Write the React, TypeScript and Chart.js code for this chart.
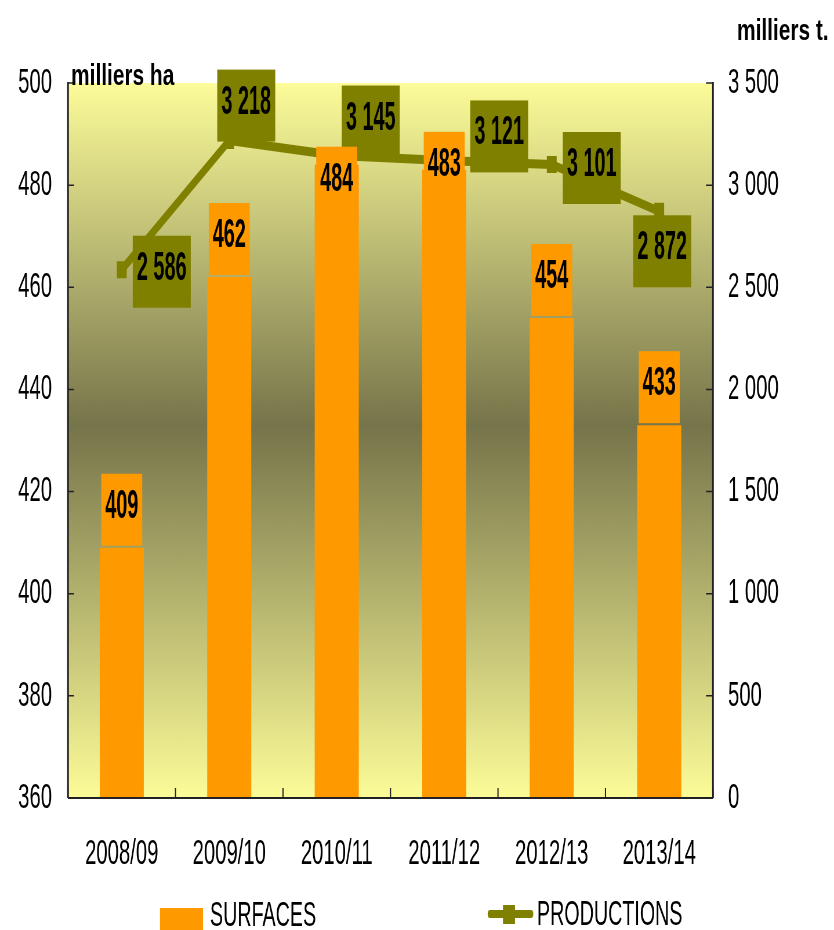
import React, { useEffect, useRef } from 'react';
import { Chart, registerables } from 'chart.js';

Chart.register(...registerables);

// ---- data ----
const categories = ['2008/09', '2009/10', '2010/11', '2011/12', '2012/13', '2013/14'];
const surfaces = [409, 462, 484, 483, 454, 433];
const productions = [2586, 3218, 3145, 3121, 3101, 2872];
const leftAxisTitle = 'milliers ha';
const rightAxisTitle = 'milliers t.';
const legendSurfaces = 'SURFACES';
const legendProductions = 'PRODUCTIONS';
const leftMin = 360;
const leftMax = 500;
const leftStep = 20;
const rightMin = 0;
const rightMax = 3500;
const rightStep = 500;

// ---- layout / style ----
const SX = 0.58; // horizontal squeeze of the whole picture
const W = Math.round(834 / SX);
const H = 930;
const X = (px: number) => px / SX;

const ORANGE = '#ff9900';
const OLIVE = '#808000';
const FONT = "'Liberation Sans', Arial, sans-serif";

// label box offsets in real px (dx, dy) relative to the point
const prodLabelOffsets: [number, number][] = [[40, 2], [17, -35], [34, -34], [55, -24], [40, 3.5], [3, 40]];
// bar label box centre, relative to bar top, real px
const surfLabelDy = [-38, -38, 18, -2, -38, -38];

const fmt = (n: number) => String(n).replace(/\B(?=(\d{3})+(?!\d))/g, ' ');

function drawText(ctx: CanvasRenderingContext2D, text: string, x: number, y: number, font: string, sx: number, align: CanvasTextAlign, baseline: CanvasTextBaseline = 'middle') {
  ctx.save();
  ctx.translate(x, y);
  ctx.scale(sx, 1);
  ctx.font = font;
  ctx.fillStyle = '#000';
  ctx.textAlign = align;
  ctx.textBaseline = baseline;
  ctx.fillText(text, 0, 0);
  ctx.restore();
}

const customPlugin = {
  id: 'customDeco',
  beforeDraw(chart: any) {
    const { ctx, chartArea: a } = chart;
    ctx.save();
    ctx.fillStyle = '#ffffff';
    ctx.fillRect(0, 0, chart.width, chart.height);
    const g = ctx.createLinearGradient(0, a.top, 0, a.bottom);
    g.addColorStop(0, '#fcfc9a');
    g.addColorStop(0.48, '#76744a');
    g.addColorStop(1, '#fcfc98');
    ctx.fillStyle = g;
    ctx.fillRect(a.left, a.top, a.right - a.left, a.bottom - a.top);
    ctx.restore();
  },
  afterDatasetsDraw(chart: any) {
    const { ctx, chartArea: a, scales } = chart;
    const xs = scales.x;
    const ys = scales.y;
    const y2 = scales.y2;
    ctx.save();
    // axes
    ctx.strokeStyle = '#222';
    ctx.lineWidth = X(1.7);
    ctx.beginPath();
    ctx.moveTo(a.left, a.top - 1);
    ctx.lineTo(a.left, a.bottom);
    ctx.moveTo(a.right, a.top - 1);
    ctx.lineTo(a.right, a.bottom);
    ctx.stroke();
    ctx.lineWidth = 2;
    ctx.beginPath();
    ctx.moveTo(a.left, a.bottom);
    ctx.lineTo(a.right, a.bottom);
    ctx.stroke();
    // ticks
    ctx.lineWidth = 1.5;
    ctx.beginPath();
    ys.ticks.forEach((t: any) => {
      const py = ys.getPixelForValue(t.value);
      ctx.moveTo(a.left, py);
      ctx.lineTo(a.left + X(6), py);
    });
    y2.ticks.forEach((t: any) => {
      const py = y2.getPixelForValue(t.value);
      ctx.moveTo(a.right, py);
      ctx.lineTo(a.right - X(7), py);
    });
    ctx.stroke();
    ctx.lineWidth = X(1.2);
    ctx.beginPath();
    for (let i = 0; i <= categories.length; i++) {
      let px: number;
      if (i === 0) px = a.left;
      else if (i === categories.length) px = a.right;
      else px = (xs.getPixelForValue(i - 1) + xs.getPixelForValue(i)) / 2;
      ctx.moveTo(px, a.bottom);
      ctx.lineTo(px, a.bottom - 10);
    }
    ctx.stroke();

    const boxFont = `bold 40px ${FONT}`;
    // olive labels for productions
    const lineMeta = chart.getDatasetMeta(0);
    lineMeta.data.forEach((pt: any, i: number) => {
      const [dx, dy] = prodLabelOffsets[i];
      const cx = pt.x + X(dx);
      const cy = pt.y + dy;
      const bw = X(58);
      const bh = 72;
      ctx.fillStyle = OLIVE;
      ctx.fillRect(cx - bw / 2, cy - bh / 2, bw, bh);
      drawText(ctx, fmt(productions[i]), cx, cy - 3, boxFont, 0.855, 'center');
    });
    // orange labels for surfaces
    const barMeta = chart.getDatasetMeta(1);
    barMeta.data.forEach((bar: any, i: number) => {
      const cx = bar.x;
      const cy = bar.y + surfLabelDy[i];
      const bw = X(41);
      const bh = 72;
      ctx.fillStyle = ORANGE;
      ctx.fillRect(cx - bw / 2, cy - bh / 2, bw, bh);
      drawText(ctx, fmt(surfaces[i]), cx, cy - 3, boxFont, 0.855, 'center');
    });
    ctx.restore();
  },
  afterDraw(chart: any) {
    const { ctx } = chart;
    ctx.save();
    const titleFont = `bold 30px ${FONT}`;
    drawText(ctx, leftAxisTitle, X(71), 85, titleFont, 1.2, 'left', 'alphabetic');
    drawText(ctx, rightAxisTitle, X(737), 40, titleFont, 1.2, 'left', 'alphabetic');
    // legend
    ctx.fillStyle = ORANGE;
    ctx.fillRect(X(160), 908, X(43), 40);
    const legFont = `35px ${FONT}`;
    drawText(ctx, legendSurfaces, X(210), 916, legFont, 0.97, 'left');
    ctx.strokeStyle = OLIVE;
    ctx.lineCap = 'round';
    ctx.lineWidth = 8;
    ctx.beginPath();
    ctx.moveTo(X(490), 914);
    ctx.lineTo(X(531), 914);
    ctx.stroke();
    ctx.fillStyle = OLIVE;
    ctx.fillRect(X(503), 905, X(12), 19);
    drawText(ctx, legendProductions, X(537), 915, legFont, 0.97, 'left');
    ctx.restore();
  },
};

export default function App() {
  const ref = useRef<HTMLCanvasElement>(null);
  useEffect(() => {
    if (!ref.current) return;
    Chart.defaults.font.family = FONT;
    Chart.defaults.color = '#000';
    const chart = new Chart(ref.current, {
      type: 'bar',
      data: {
        labels: categories,
        datasets: [
          {
            type: 'line',
            label: legendProductions,
            data: productions,
            yAxisID: 'y2',
            borderColor: OLIVE,
            backgroundColor: OLIVE,
            borderWidth: 9,
            pointStyle: 'rect',
            pointRadius: 12,
            pointBackgroundColor: OLIVE,
            pointBorderWidth: 0,
            tension: 0,
            order: 1,
          } as any,
          {
            type: 'bar',
            label: legendSurfaces,
            data: surfaces,
            yAxisID: 'y',
            backgroundColor: ORANGE,
            barPercentage: 0.41,
            categoryPercentage: 1,
            order: 2,
          } as any,
        ],
      },
      options: {
        animation: false,
        responsive: false,
        devicePixelRatio: 1,
        events: [],
        layout: { padding: { top: 83, left: 0, right: 0, bottom: 0 } },
        plugins: {
          legend: { display: false },
          tooltip: { enabled: false },
        },
        scales: {
          x: {
            grid: { display: false, drawTicks: false },
            border: { display: false },
            ticks: { color: '#000', font: { size: 35 }, padding: 35, maxRotation: 0, autoSkip: false },
            afterFit: (s: any) => { s.height = 132; },
          },
          y: {
            position: 'left',
            min: leftMin,
            max: leftMax,
            grid: { display: false, drawTicks: false },
            border: { display: false },
            ticks: { stepSize: leftStep, color: '#000', font: { size: 35 }, padding: X(16) },
            afterFit: (s: any) => { s.width = X(68); },
          },
          y2: {
            position: 'right',
            min: rightMin,
            max: rightMax,
            grid: { display: false, drawTicks: false },
            border: { display: false },
            ticks: { stepSize: rightStep, color: '#000', font: { size: 35 }, padding: X(15), callback: (v: any) => fmt(Number(v)) },
            afterFit: (s: any) => { s.width = W - X(713); },
          },
        },
      } as any,
      plugins: [customPlugin],
    });
    return () => chart.destroy();
  }, []);
  return (
    <div style={{ position: 'absolute', left: 0, top: 0, width: 834, height: 930, overflow: 'hidden', background: '#fff' }}>
      <canvas ref={ref} width={W} height={H} style={{ width: '834px', height: '930px', display: 'block' }} />
    </div>
  );
}
